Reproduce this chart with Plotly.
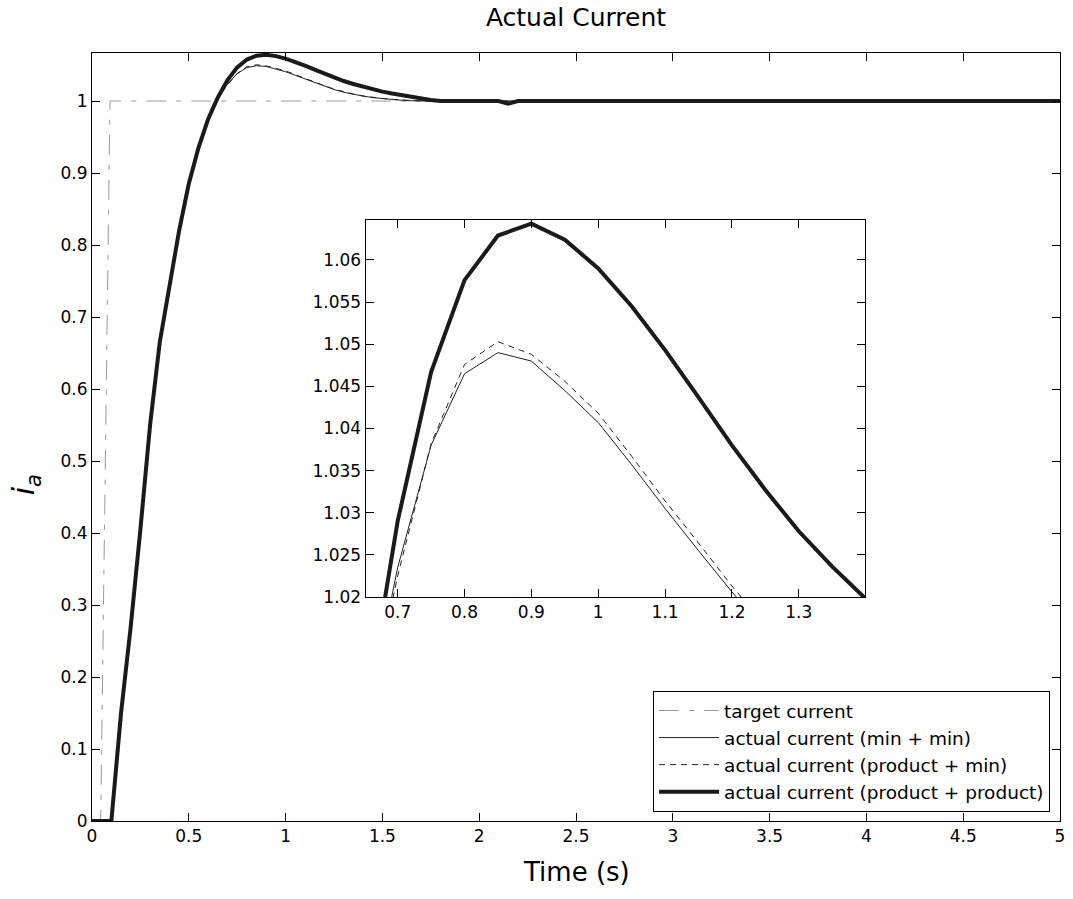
import plotly.graph_objects as go

# ---- data ----
t_target = [0, 0.045, 0.093, 5]
i_target = [0, 0, 1, 1]

t = [0, 0.05, 0.10, 0.15, 0.20, 0.25, 0.30, 0.35, 0.40, 0.45, 0.50, 0.55, 0.60,
     0.65, 0.70, 0.75, 0.80, 0.85, 0.90, 0.95, 1.00, 1.05, 1.10, 1.15, 1.20,
     1.25, 1.30, 1.35, 1.40, 1.45, 1.50, 1.55, 1.60, 1.65, 1.70, 1.75, 1.80,
     2.10, 2.15, 2.20, 5.00]

i_min_min = [0, 0, 0, 0.15, 0.27, 0.405, 0.55, 0.665, 0.745, 0.82, 0.885, 0.935, 0.975,
             1.004, 1.0235, 1.038, 1.0465, 1.049, 1.048, 1.0445, 1.0407, 1.0357, 1.0305, 1.0255, 1.0206,
             1.016, 1.0122, 1.0092, 1.0068, 1.0048, 1.0033, 1.002, 1.001, 1.0004, 1.0, 1.0, 1.0,
             1.0, 1.0, 1.0, 1.0]

i_prod_min = [0, 0, 0, 0.15, 0.27, 0.405, 0.55, 0.665, 0.745, 0.82, 0.885, 0.935, 0.975,
              1.004, 1.0225, 1.0382, 1.0476, 1.0503, 1.0488, 1.0456, 1.0418, 1.0367, 1.0314, 1.0264, 1.0213,
              1.0166, 1.0127, 1.0096, 1.0071, 1.005, 1.0035, 1.0022, 1.0012, 1.0005, 1.0, 1.0, 1.0,
              1.0, 1.0, 1.0, 1.0]

i_prod_prod = [0, 0, 0, 0.15, 0.27, 0.405, 0.55, 0.665, 0.745, 0.82, 0.885, 0.935, 0.975,
               1.005, 1.029, 1.0467, 1.0576, 1.0629, 1.0643, 1.0624, 1.059, 1.0545, 1.0493, 1.0437, 1.038,
               1.0327, 1.0278, 1.0236, 1.0197, 1.016, 1.013, 1.0105, 1.008, 1.006, 1.0035, 1.0015, 1.0,
               1.0, 0.9963, 1.0, 1.0]

names = ["target current", "actual current (min + min)",
         "actual current (product + min)", "actual current (product + product)"]

x_ticks_main = [0, 0.5, 1, 1.5, 2, 2.5, 3, 3.5, 4, 4.5, 5]
y_ticks_main = [0, 0.1, 0.2, 0.3, 0.4, 0.5, 0.6, 0.7, 0.8, 0.9, 1]
x_ticks_inset = [0.7, 0.8, 0.9, 1.0, 1.1, 1.2, 1.3]
y_ticks_inset = [1.02, 1.025, 1.03, 1.035, 1.04, 1.045, 1.05, 1.055, 1.06]
y_ticktext_inset = ["1.02", "1.025", "1.03", "1.035", "1.04", "1.045", "1.05", "1.055", "1.06"]

FONT = "DejaVu Sans, Liberation Sans, Arial, sans-serif"

styles = [
    dict(color="#9a9a9a", width=1, dash="20px,10px,5px,10px"),
    dict(color="#222222", width=1, dash="solid"),
    dict(color="#222222", width=1, dash="6px,5px"),
    dict(color="#1a1a1a", width=4, dash="solid"),
]
series_x = [t_target, t, t, t]
series_y = [i_target, i_min_min, i_prod_min, i_prod_prod]

fig = go.Figure()
for k in range(4):
    fig.add_trace(go.Scatter(x=series_x[k], y=series_y[k], mode="lines", name=names[k],
                             line=styles[k], xaxis="x", yaxis="y", showlegend=True))
for k in range(1, 4):
    fig.add_trace(go.Scatter(x=series_x[k], y=series_y[k], mode="lines", name=names[k],
                             line=styles[k], xaxis="x2", yaxis="y2", showlegend=False))

axis_common = dict(showline=True, linecolor="black", linewidth=1, mirror="ticks",
                   ticks="inside", ticklen=8, tickcolor="black", showgrid=False,
                   zeroline=False, tickfont=dict(family=FONT, size=17, color="black"))

W, H = 1073, 899
L, R, T, B = 92, 1065, 53, 821   # plot box in page pixels


def fx(px):
    return (px - L) / (R - L)


def fy(py):
    return (B - py) / (B - T)


fig.update_layout(
    width=W, height=H,
    margin=dict(l=L, r=W - R, t=T, b=H - B),
    paper_bgcolor="white", plot_bgcolor="white",
    title=dict(text="Actual Current", x=0.5, xref="paper", y=1 - 17 / H, yref="container",
               xanchor="center", yanchor="middle",
               font=dict(family=FONT, size=25, color="black")),
    xaxis=dict(range=[0, 5], tickvals=x_ticks_main, domain=[0, 1], **axis_common),
    yaxis=dict(range=[0, 1.0667], tickvals=y_ticks_main, domain=[0, 1], **axis_common),
    xaxis2=dict(range=[0.652, 1.399], tickvals=x_ticks_inset, anchor="y2",
                domain=[fx(367), fx(869)], **axis_common),
    yaxis2=dict(range=[1.02, 1.0648], tickvals=y_ticks_inset, ticktext=y_ticktext_inset, anchor="x2",
                domain=[fy(597), fy(219.5)], **axis_common),
    legend=dict(x=fx(1055), y=fy(691), xanchor="right", yanchor="top",
                bgcolor="white", bordercolor="black", borderwidth=1, itemwidth=60,
                font=dict(family=FONT, size=18.5, color="black"), tracegroupgap=0),
    showlegend=True,
    annotations=[
        dict(text="Time (s)", xref="paper", yref="paper", x=0.5, y=fy(872),
             xanchor="center", yanchor="middle", showarrow=False,
             font=dict(family=FONT, size=26, color="black")),
        dict(text="<i>i</i><sub><i>a</i></sub>", xref="paper", yref="paper", x=fx(25), y=fy(485),
             xanchor="center", yanchor="middle", showarrow=False, textangle=-90,
             font=dict(family=FONT, size=30, color="black")),
    ],
)

fig.write_html("out.html", config={"displayModeBar": False},
               post_script="document.body.style.margin='0px';document.body.style.overflow='hidden';")
